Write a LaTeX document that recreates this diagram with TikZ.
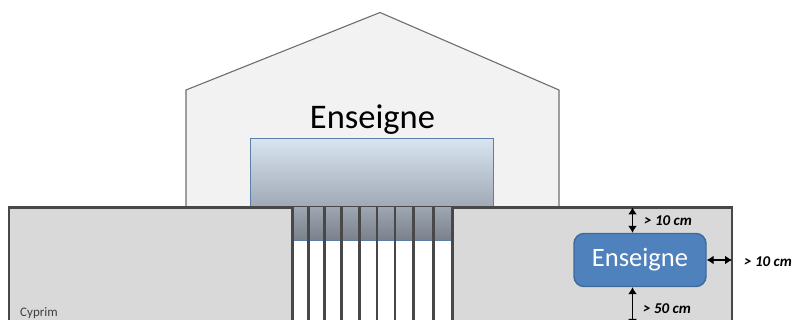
\documentclass[tikz,border=0pt]{standalone}
\usepackage{fontspec}
\setmainfont{Carlito}
\usetikzlibrary{arrows.meta,calc}
\definecolor{wallgrey}{HTML}{D9D9D9}
\definecolor{houseface}{HTML}{F2F2F2}
\definecolor{darkline}{HTML}{484848}
\definecolor{houseline}{HTML}{6E6E6E}
\definecolor{panelline}{HTML}{5B7FA8}
\definecolor{signblue}{HTML}{4F81BD}
\definecolor{signedge}{HTML}{3F6A9C}
\tikzset{
  house/.style={draw=houseline,fill=houseface,line width=1.1pt,line join=miter},
  wall/.style={draw=darkline,line width=2.6pt},
  bar/.style={draw=darkline,line width=2.5pt},
  panelbox/.style={draw=panelline,line width=1pt},
  signbox/.style={draw=signedge,fill=signblue,line width=1.4pt,rounded corners=10pt,minimum width=132pt,minimum height=53pt,inner sep=0pt,text=white,font=\fontsize{26.5}{30}\selectfont},
  gap/.style={{Latex[length=7pt,width=9pt]}-{Latex[length=7pt,width=9pt]},black,line width=1.3pt},
  dim/.style={font=\fontsize{15}{17}\selectfont\bfseries\itshape,text=black,inner sep=0pt,anchor=west},
}
\begin{document}
\begin{tikzpicture}[x=1pt,y=-1pt]
\useasboundingbox (0,0) rectangle (793,320);
\clip (0,0) rectangle (793,320);
% house
\draw[house] (186,207) -- (186,90) -- (380,12.5) -- (559,90) -- (559,207);
\node[inner sep=0pt,font=\fontsize{34.5}{40}\selectfont,text=black] (title) at (372.5,120) {Enseigne};
% panel
\shade[top color={rgb,255:red,216;green,228;blue,241},bottom color={rgb,255:red,160;green,168;blue,181}] (250,139) rectangle (493.5,207);
\draw[panelbox] (493.5,207) -- (493.5,139) -- (250,139) -- (250,207);
% wall
\fill[wallgrey] (9,207) rectangle (732,330);
\draw[wall] (9,330) -- (9,207.5) -- (732,207.5) -- (732,330);
% gate
\fill[white] (292.7,207) rectangle (452.3,330);
\shade[top color={rgb,255:red,156;green,165;blue,177},bottom color={rgb,255:red,122;green,128;blue,138}] (292.7,208) rectangle (452.3,241);
\draw[panelbox] (292.7,241) -- (452.3,241);
\foreach \xx in {292.7,308.7,324.7,341.3,359.3,377,395,413.7,433.3,452.3}
  \draw[bar] (\xx,207) -- (\xx,330);
% sign
\node[signbox] (sign) at (640,260) {\raisebox{-2pt}{Enseigne}};
\coordinate (walltop) at (632.5,207.5);
\coordinate (wallright) at (732,260);
\coordinate (wallbottom) at (632.5,326);
\draw[gap] (sign.north -| walltop) -- (walltop);
\draw[gap] (sign.east) -- (wallright);
\draw[gap] (sign.south -| walltop) -- (wallbottom);
\node[dim] (d1) at (644,221) {> 10 cm};
\node[dim] (d2) at (744,262) {> 10 cm};
\node[dim] (d3) at (643,309) {> 50 cm};
\node[inner sep=0pt,anchor=west,font=\fontsize{13}{15}\selectfont,text=black!75] (brand) at (20,313) {Cyprim};
\end{tikzpicture}
\end{document}
